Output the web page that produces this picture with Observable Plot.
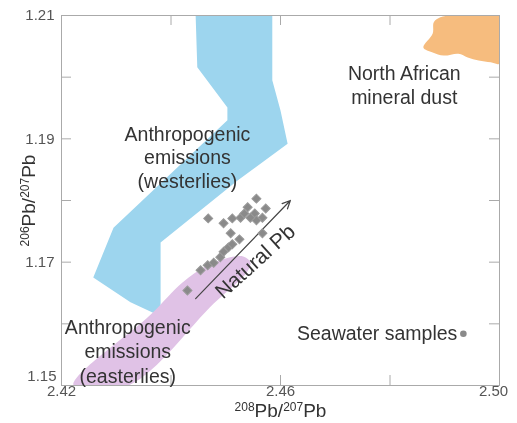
<!DOCTYPE html>
<html>
<head>
<meta charset="utf-8">
<script src="https://cdn.jsdelivr.net/npm/d3@7"></script>
<script src="https://cdn.jsdelivr.net/npm/@observablehq/plot@0.6"></script>
<style>
  html, body { margin: 0; padding: 0; background: #fff; }
  #chart { width: 517px; height: 423px; }
</style>
</head>
<body>
<div id="chart"></div>
<script>
// ---- data ----
const xTicks = [2.44, 2.46, 2.48];
const yTicks = [1.16, 1.17, 1.18, 1.19, 1.20];
const xLabels = [2.42, 2.46, 2.50];
const yLabels = [1.15, 1.17, 1.19, 1.21];

// Anthropogenic emissions (westerlies) field outline [208Pb/207Pb, 206Pb/207Pb]
const westerlies = [
  [2.4445, 1.2100], [2.4585, 1.2100], [2.4585, 1.1995], [2.4600, 1.1946],
  [2.4613, 1.1892], [2.4521, 1.1832], [2.4381, 1.1732], [2.4381, 1.1617],
  [2.4377, 1.1614], [2.4326, 1.1635], [2.4258, 1.1675], [2.4295, 1.1756],
  [2.4503, 1.1930], [2.4503, 1.1951], [2.4448, 1.2016]
];
// Anthropogenic emissions (easterlies) field outline
const easterlies = [
  [2.4222, 1.1500], [2.4363, 1.1615], [2.4421, 1.1667], [2.4463, 1.1693],
  [2.4500, 1.1706], [2.4532, 1.1709], [2.4545, 1.1699], [2.4538, 1.1683],
  [2.4478, 1.1633], [2.4322, 1.1500]
];
// North African mineral dust field outline
const africanDust = [
  [2.4914, 1.2100], [2.5000, 1.2100], [2.5000, 1.2022], [2.4984, 1.2024],
  [2.4962, 1.2027], [2.4942, 1.2032], [2.4925, 1.2038], [2.4898, 1.2035],
  [2.4878, 1.2040], [2.4861, 1.2048], [2.4878, 1.2071], [2.4880, 1.2089],
  [2.4892, 1.2097]
];
// aerosol samples (grey diamonds)
const samplesX = [2.4430, 2.4454, 2.4467, 2.4478, 2.4490, 2.4496, 2.4505, 2.4512,
  2.4509, 2.4525, 2.4468, 2.4496, 2.4512, 2.4527, 2.4534, 2.4540, 2.4556, 2.4553,
  2.4567, 2.4573, 2.4567, 2.4556, 2.4545];
const samplesY = [1.1654, 1.1687, 1.1695, 1.1699, 1.1708, 1.1717, 1.1724, 1.1729,
  1.1747, 1.1737, 1.1771, 1.1763, 1.1771, 1.1772, 1.1779, 1.1789, 1.1803, 1.1779,
  1.1772, 1.1787, 1.1747, 1.1768, 1.1772];
// seawater samples
const seawater = [[2.4934, 1.1584]];
// Natural Pb trend arrow
const naturalArrow = [{x1: 2.4445, y1: 1.1641, x2: 2.4618, y2: 1.1800}];
// annotation labels
const labels = [
  {x: 2.4430, y: 1.1871, text: "Anthropogenic\nemissions\n(westerlies)", lh: 1.2},
  {x: 2.4321, y: 1.1557, text: "Anthropogenic\nemissions\n(easterlies)", lh: 1.26},
  {x: 2.4826, y: 1.1988, text: "North African\nmineral dust", lh: 1.22}
];
const naturalLabel = [{x: 2.4554, y: 1.1701, text: "Natural Pb"}];
const xTitle = ["208Pb/207Pb"];
const yTitle = ["206Pb/207Pb"];

const samples = samplesX.map((x, i) => ({x, y: samplesY[i]}));
const fmt = d => d.toFixed(2);
const tickColor = "#aaaaaa";

const chart = Plot.plot({
  width: 517,
  height: 423,
  marginLeft: 61,
  marginRight: 18,
  marginTop: 15,
  marginBottom: 38,
  x: {domain: [2.42, 2.50], axis: null},
  y: {domain: [1.15, 1.21], axis: null},
  style: {fontFamily: "'Liberation Sans', Arial, sans-serif", background: "#fff", overflow: "visible"},
  marks: [
    Plot.line(westerlies, {x: d => d[0], y: d => d[1], curve: "linear-closed", fill: "#9dd5ee", stroke: "none", clip: true}),
    Plot.line(easterlies, {x: d => d[0], y: d => d[1], curve: "catmull-rom-closed", fill: "#e0c2e6", stroke: "none", clip: true, mixBlendMode: "multiply"}),
    Plot.line(africanDust, {x: d => d[0], y: d => d[1], curve: "catmull-rom-closed", fill: "#f6bc7e", stroke: "none", clip: true}),
    Plot.frame({stroke: tickColor}),
    Plot.ruleX(xTicks, {x: d => d, insetTop: 360, stroke: tickColor}),
    Plot.ruleX(xTicks, {x: d => d, insetBottom: 360, stroke: tickColor}),
    Plot.ruleY(yTicks, {y: d => d, insetRight: 428, stroke: tickColor}),
    Plot.ruleY(yTicks, {y: d => d, insetLeft: 428, stroke: tickColor}),
    Plot.text(xLabels, {filter: d => d < 2.50, x: d => d, frameAnchor: "bottom", dy: 10, text: fmt, fontSize: 15, fill: "#555"}),
    Plot.text(xLabels, {filter: d => d >= 2.50, x: d => d, frameAnchor: "bottom", dy: 10, dx: -6, text: fmt, fontSize: 15, fill: "#555"}),
    Plot.text(yLabels, {filter: d => d > 1.15, y: d => d, frameAnchor: "left", dx: -7, textAnchor: "end", text: fmt, fontSize: 15, fill: "#555"}),
    Plot.text(yLabels, {filter: d => d <= 1.15, y: d => d, frameAnchor: "left", dx: -5, dy: -9, textAnchor: "end", text: fmt, fontSize: 15, fill: "#555"}),
    Plot.text(xTitle, {frameAnchor: "bottom", dy: 31, textAnchor: "middle", text: d => d, fontSize: 19, fill: "#333"}),
    Plot.text(yTitle, {frameAnchor: "left", dx: -33, rotate: -90, textAnchor: "middle", text: d => d, fontSize: 19, fill: "#333"}),
    Plot.arrow(naturalArrow, {x1: "x1", y1: "y1", x2: "x2", y2: "y2", stroke: "#444", strokeWidth: 1.2, headLength: 11, headAngle: 50}),
    Plot.dot(samples, {x: "x", y: "y", symbol: "square", r: 3.6, rotate: 45, fill: "#8a8a8a", stroke: "#9a9a9a", strokeWidth: 1}),
    Plot.dot(seawater, {x: d => d[0], y: d => d[1], r: 3.3, fill: "#8a8a8a"}),
    Plot.text(seawater, {x: d => d[0], y: d => d[1], text: () => "Seawater samples", textAnchor: "end", dx: -6, fontSize: 19.5, fill: "#333"}),
    ...labels.map(l => Plot.text([l], {x: "x", y: "y", text: "text", lineHeight: l.lh, fontSize: 19.5, fill: "#333"})),
    Plot.text(naturalLabel, {x: "x", y: "y", text: "text", rotate: -42, fontSize: 21, fill: "#333"})
  ]
});

// superscript mass numbers in the isotope-ratio titles
d3.select(chart).selectAll("text").each(function() {
  const t = this.textContent;
  if (!/^\d+Pb\/\d+Pb$/.test(t)) return;
  const sel = d3.select(this);
  sel.text(null);
  const parts = t.match(/\d+|[^\d]+/g);
  parts.forEach(p => {
    const sup = /^\d/.test(p);
    const ts = sel.append("tspan").text(p);
    if (sup) ts.attr("font-size", 12).attr("dy", -6);
    else ts.attr("dy", 6);
  });
});

document.getElementById("chart").appendChild(chart);
</script>
</body>
</html>
